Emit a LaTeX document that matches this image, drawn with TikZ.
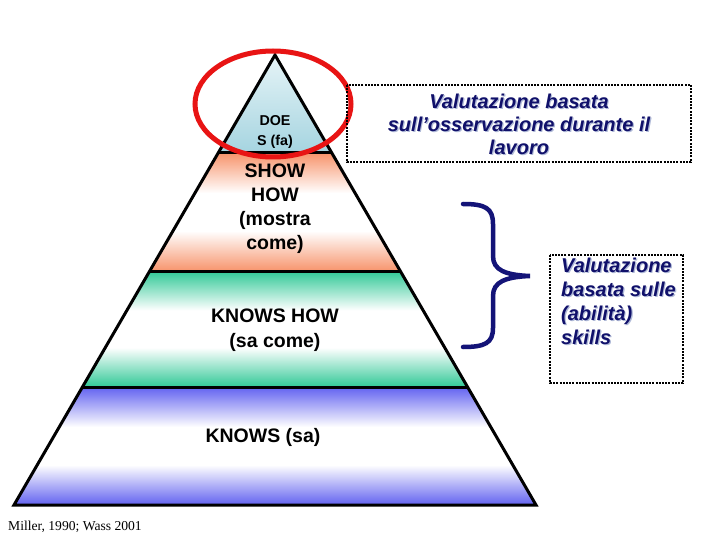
\documentclass[tikz,border=0pt]{standalone}
\usepackage{fontspec}
\setmainfont{Liberation Serif}
\setsansfont{Liberation Sans}
\definecolor{navytext}{RGB}{16,16,106}
\definecolor{bracecol}{RGB}{20,20,120}
\definecolor{orangeb}{RGB}{247,148,108}
\definecolor{greenb}{RGB}{48,200,150}
\definecolor{blueb}{RGB}{98,98,240}
\definecolor{doeblue}{RGB}{165,212,224}
\definecolor{doetop}{RGB}{230,244,247}
\definecolor{shadowc}{RGB}{175,185,215}
\definecolor{redring}{RGB}{232,20,20}
\pgfdeclareverticalshading{bandorange}{100bp}{color(0bp)=(orangeb); color(25bp)=(orangeb); color(42bp)=(white); color(58bp)=(white); color(75bp)=(orangeb); color(100bp)=(orangeb)}
\pgfdeclareverticalshading{bandgreen}{100bp}{color(0bp)=(greenb); color(25bp)=(greenb); color(42bp)=(white); color(58bp)=(white); color(75bp)=(greenb); color(100bp)=(greenb)}
\pgfdeclareverticalshading{bandblue}{100bp}{color(0bp)=(blueb); color(25bp)=(blueb); color(42bp)=(white); color(58bp)=(white); color(75bp)=(blueb); color(100bp)=(blueb)}
\begin{document}
\begin{tikzpicture}[x=1pt,y=-1pt,
  outl/.style={line width=3pt,line join=miter},
  dotbox/.style={draw=black,line width=2pt,dash pattern=on 2pt off 1.2pt},
  pyrtxt/.style={font=\sffamily\bfseries\fontsize{19.5}{24}\selectfont,align=center,inner sep=0pt},
  boxtxt/.style={font=\sffamily\bfseries\itshape\fontsize{20}{23}\selectfont,text=navytext,inner sep=0pt},
  shtxt/.style={font=\sffamily\bfseries\itshape\fontsize{20}{23}\selectfont,text=shadowc,inner sep=0pt}]
\useasboundingbox (0,0) rectangle (720,540);
\fill[white] (0,0) rectangle (720,540);
% pyramid corner points
\coordinate (apex) at (275,55);
\coordinate (l1) at (218.2,153); \coordinate (r1) at (331.8,153);
\coordinate (l2) at (149.7,271); \coordinate (r2) at (400.3,271);
\coordinate (l3) at (82.4,387);  \coordinate (r3) at (467.6,387);
\coordinate (l4) at (14,505);    \coordinate (r4) at (536,505);
% bands
\shade[top color=doetop,bottom color=doeblue] (apex) -- (r1) -- (l1) -- cycle;
\shade[shading=bandorange] (l1) -- (r1) -- (r2) -- (l2) -- cycle;
\shade[shading=bandgreen] (l2) -- (r2) -- (r3) -- (l3) -- cycle;
\shade[shading=bandblue] (l3) -- (r3) -- (r4) -- (l4) -- cycle;
% outlines
\draw[outl] (apex) -- (r4) -- (l4) -- cycle;
\draw[outl] (l1) -- (r1);
\draw[outl] (l2) -- (r2);
\draw[outl] (l3) -- (r3);
% pyramid labels
\node[pyrtxt,font=\sffamily\bfseries\fontsize{14.3}{20}\selectfont] (doe) at (275,132) {DOE\\S (fa)};
\node[pyrtxt] (show) at (275,209) {SHOW\\HOW\\(mostra\\come)};
\node[pyrtxt,font=\sffamily\bfseries\fontsize{19.5}{25}\selectfont] (knowshow) at (275,330) {KNOWS HOW\\(sa come)};
\node[pyrtxt,font=\sffamily\bfseries\fontsize{19.5}{24}\selectfont] (knows) at (263,437) {KNOWS (sa)};
% red ring
\draw[redring,line width=5pt] (273,104) ellipse [x radius=78,y radius=53];
% top dotted box
\draw[dotbox] (347,85) rectangle (691,162);
\node[shtxt,align=center] at (520.2,125.2) {Valutazione basata\\sull’osservazione durante il\\lavoro};
\node[boxtxt,align=center] (obs) at (519,124) {Valutazione basata\\sull’osservazione durante il\\lavoro};
% brace
\draw[bracecol,line width=4.5pt,line cap=round]
  (463,204) .. controls (485,204) and (493,208) .. (493,224) -- (493,256)
  .. controls (493,270) and (505,275) .. (530,276)
  .. controls (505,277) and (493,282) .. (493,296) -- (493,328)
  .. controls (493,343) and (485,347) .. (463,347);
\coordinate (bracetip) at (530,276);
% second dotted box
\draw[dotbox] (550,255) rectangle (683,383);
\node[shtxt,align=left,anchor=north west] at (562.2,259.2) {Valutazione\\[1pt]basata sulle\\[1pt](abilità)\\[1pt]skills};
\node[boxtxt,align=left,anchor=north west] (skills) at (561,258) {Valutazione\\[1pt]basata sulle\\[1pt](abilità)\\[1pt]skills};
% citation
\node[font=\fontsize{13.6}{16}\selectfont,anchor=west,inner sep=0pt] (cite) at (8,527) {Miller, 1990; Wass 2001};
\end{tikzpicture}
\end{document}
